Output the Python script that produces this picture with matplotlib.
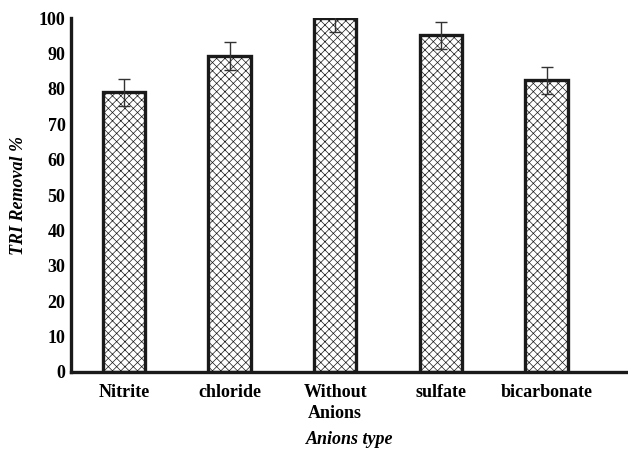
import matplotlib
matplotlib.use("Agg")
import matplotlib.pyplot as plt
import numpy as np

categories = ["Nitrite", "chloride", "Without\nAnions", "sulfate", "bicarbonate"]
removal = [79.0, 89.3, 100.0, 95.1, 82.4]
errors = [3.8, 4.0, 4.0, 3.9, 3.9]
yticks = [0, 10, 20, 30, 40, 50, 60, 70, 80, 90, 100]

plt.rcParams["font.family"] = ["Liberation Serif", "DejaVu Serif"]
plt.rcParams["hatch.color"] = "#808080"
plt.rcParams["hatch.linewidth"] = 0.5

fig = plt.figure(figsize=(6.28, 4.53), dpi=100)
ax = fig.add_axes([0.113, 0.179, 0.887, 0.781])

x = np.arange(len(categories))
ax.bar(x, removal, width=0.4, color="white", edgecolor="#1a1a1a",
       linewidth=2.4, hatch="xxxx", zorder=2)
ax.errorbar(x, removal, yerr=errors, fmt="none", ecolor="#333333",
            elinewidth=1.0, capsize=4, capthick=1.0, zorder=3)

ax.set_xlim(-0.5, 4.77)
ax.set_ylim(0, 100)
ax.set_yticks(yticks)
ax.set_xticks(x)
ax.set_xticklabels(categories, fontsize=13, fontweight="bold", linespacing=1.3)
ax.set_yticklabels([str(t) for t in yticks], fontsize=13, fontweight="bold")
ax.tick_params(axis="y", length=0, pad=4)
ax.tick_params(axis="x", length=0, pad=9)

for side in ("top", "right"):
    ax.spines[side].set_visible(False)
for side in ("left", "bottom"):
    ax.spines[side].set_linewidth(2.4)
    ax.spines[side].set_color("#1a1a1a")

ax.set_ylabel("TRI Removal %", fontsize=13, fontweight="bold",
              fontstyle="italic", va="center")
ax.yaxis.set_label_coords(-0.095, 0.5)
ax.set_xlabel("Anions type", fontsize=13, fontweight="bold",
              fontstyle="italic", va="center")
ax.xaxis.set_label_coords(0.5, -0.192)

fig.savefig("out.png", dpi=100)
